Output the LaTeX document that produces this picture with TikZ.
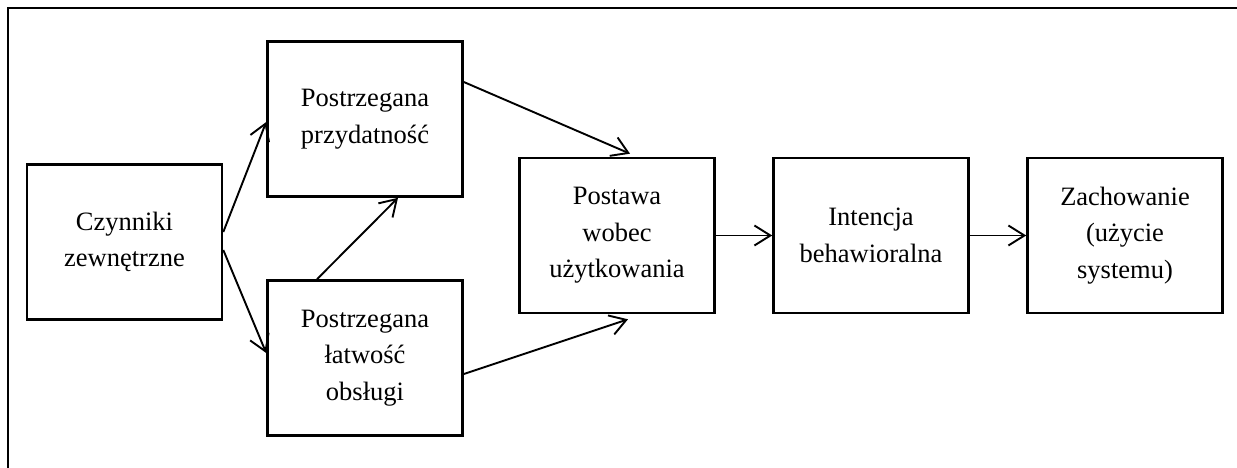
\documentclass[tikz,border=0pt]{standalone}
\usepackage{fontspec}
\setmainfont{Liberation Serif}
\usetikzlibrary{arrows.meta,calc}
\begin{document}
\begin{tikzpicture}[x=1pt,y=-1pt,
  block/.style={draw,line width=2.6pt,minimum width=195pt,minimum height=155pt,
    align=center,inner sep=0pt,font=\fontsize{26.5}{36.4}\selectfont,
    % taller first line keeps the text block slightly below centre
    execute at begin node={\rule{0pt}{24pt}}},
  link/.style={line width=1.9pt,-{Straight Barb[length=16pt,width=20pt,line width=1.9pt]}}]
  \useasboundingbox (0,0) rectangle (1237,468);
  % frame (top and left edges)
  \draw[line width=2.6pt] (8,470) -- (8,8) -- (1240,8);

  \node[block] (A) at (124.5,242) {Czynniki\\zewnętrzne};
  \node[block] (B) at (365,119) {Postrzegana\\przydatność};
  \node[block] (C) at (365,358) {Postrzegana\\łatwość\\obsługi};
  \node[block] (D) at (617,235.5) {Postawa\\wobec\\użytkowania};
  \node[block] (E) at (871,235.5) {Intencja\\behawioralna};
  \node[block] (F) at (1125,235.5) {Zachowanie\\(użycie\\systemu)};

  \draw[link] ($(A.east)+(0,-10)$) -- ($(B.west)+(0,3)$);
  \draw[link] ($(A.east)+(0,8)$) -- ($(C.west)+(0,-5)$);
  \draw[link] ($(C.north)+(-48,0)$) -- ($(B.south)+(33,0)$);
  \draw[link] ($(B.east)+(0,-37)$) -- ($(D.north)+(13,-3)$);
  \draw[link] ($(C.east)+(0,16)$) -- ($(D.south)+(11,5)$);
  \draw[link] (D.east) -- (E.west);
  \draw[link] (E.east) -- (F.west);
\end{tikzpicture}
\end{document}
